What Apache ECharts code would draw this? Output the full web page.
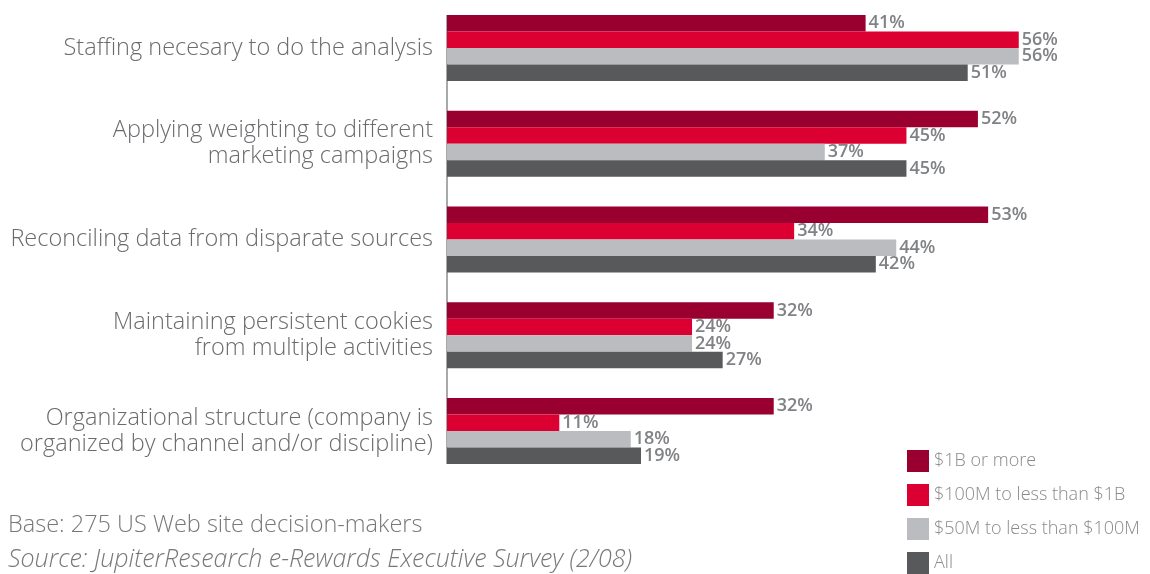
<!DOCTYPE html>
<html>
<head>
<meta charset="utf-8">
<script src="https://cdn.jsdelivr.net/npm/echarts@6/dist/echarts.min.js"></script>
<style>
html,body{margin:0;padding:0;background:#fff;}
#chart{width:1150px;height:574px;}
</style>
</head>
<body>
<div id="chart"></div>
<script>
const categories = [
  'Staffing necesary to do the analysis',
  'Applying weighting to different\nmarketing campaigns',
  'Reconciling data from disparate sources',
  'Maintaining persistent cookies\nfrom multiple activities',
  'Organizational structure (company is\norganized by channel and/or discipline)'
];
const seriesNames = ['$1B or more', '$100M to less than $1B', '$50M to less than $100M', 'All'];
const s1B = [41, 52, 53, 32, 32];
const s100M = [56, 45, 34, 24, 11];
const s50M = [56, 37, 44, 24, 18];
const sAll = [51, 45, 42, 27, 19];
const colors = ['#990030', '#dc0032', '#bbbcc0', '#58595b'];
const footBase = 'Base: 275 US Web site decision-makers';
const footSource = 'Source: JupiterResearch e-Rewards Executive Survey (2/08)';

const FONT = 'Open Sans';
const chart = echarts.init(document.getElementById('chart'));
const data = [s1B, s100M, s50M, sAll];
const option = {
  animation: false,
  textStyle: { fontFamily: FONT },
  grid: { left: 447, right: 90.4, top: -2.1, height: 481, containLabel: false },
  xAxis: {
    type: 'value', min: 0, max: 60,
    show: false
  },
  yAxis: {
    type: 'category', data: categories, inverse: true,
    axisLine: { show: false },
    axisTick: { show: false },
    axisLabel: {
      margin: 14, fontSize: 23.5, color: '#6a6b6e', fontFamily: FONT, fontWeight: 300,
      lineHeight: 26, align: 'right', padding: [5, 0, 0, 0]
    }
  },
  legend: {
    orient: 'vertical', left: 907, top: 450, padding: 0,
    itemWidth: 22, itemHeight: 22, itemGap: 12,
    icon: 'rect',
    textStyle: { fontSize: 18, color: '#8a8a8a', fontFamily: FONT, fontWeight: 300 },
    data: seriesNames
  },
  graphic: [
    { type: 'text', left: 8, top: 513, style: { text: footBase, fontSize: 23.5, fill: '#77787b', fontFamily: FONT, fontWeight: 300 } },
    { type: 'text', left: 8, top: 547, style: { text: footSource, fontSize: 25, fill: '#77787b', fontFamily: FONT, fontWeight: 300, fontStyle: 'italic' } }
  ],
  series: seriesNames.map((n, i) => ({
    name: n, type: 'bar', data: data[i],
    barWidth: 16.5, barGap: '0%',
    itemStyle: { color: colors[i] },
    label: {
      show: true, position: 'right', distance: 3,
      formatter: '{c}%', fontSize: 18, fontWeight: 600, color: '#808285', fontFamily: FONT
    }
  }))
};
chart.setOption(option);
const firstC = chart.convertToPixel({ yAxisIndex: 0 }, 0);
const lastC = chart.convertToPixel({ yAxisIndex: 0 }, categories.length - 1);
const x0 = chart.convertToPixel({ xAxisIndex: 0 }, 0);
const half = 16.5 * seriesNames.length / 2;
chart.setOption({
  graphic: option.graphic.concat([{
    type: 'line', shape: { x1: x0, y1: firstC - half, x2: x0, y2: lastC + half },
    style: { stroke: '#a7a9ac', lineWidth: 2 }
  }])
});
</script>
</body>
</html>
